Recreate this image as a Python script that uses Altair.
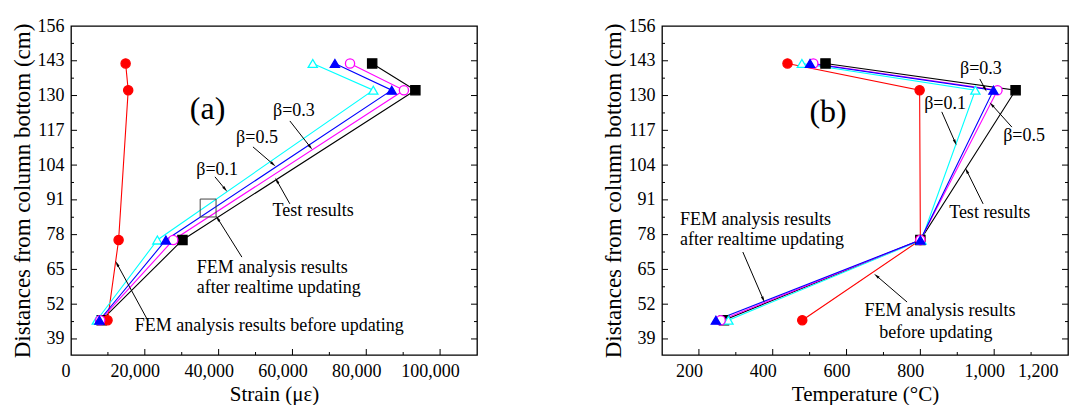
import math
import altair as alt
import pandas as pd

# ---------------- data ----------------
heights = [142, 132, 76, 46]
series = ["Test results", "FEM before updating", "β=0.1", "β=0.3", "β=0.5"]
colors = ["#000000", "#FF0000", "#00FFFF", "#FF00FF", "#0000FF"]
fills = ["#000000", "#FF0000", "#FFFFFF", "#FFFFFF", "#0000FF"]
shapes = ["square", "circle", "triangle-up", "circle", "triangle-up"]

strain_test = [81600, 93300, 30200, 8300]
strain_fem_before = [14800, 15500, 12900, 9900]
strain_b01 = [65500, 81900, 23400, 7000]
strain_b03 = [75600, 90200, 27700, 7900]
strain_b05 = [71500, 86900, 25700, 7700]

temp_test = [543, 1058, 800, 268]
temp_fem_before = [440, 798, 800, 480]
temp_b01 = [479, 949, 803, 280]
temp_b03 = [510, 1009, 800, 259]
temp_b05 = [501, 998, 800, 246]

y_ticks = [39, 52, 65, 78, 91, 104, 117, 130, 143, 156]
y_minor = [45.5, 58.5, 71.5, 84.5, 97.5, 110.5, 123.5, 136.5, 149.5]
strain_ticks = [0, 20000, 40000, 60000, 80000, 100000]
strain_minor = [10000, 30000, 50000, 70000, 90000]
temp_ticks = [200, 400, 600, 800, 1000, 1200]
temp_minor = [300, 500, 700, 900, 1100]

# annotations (data units)
a_center = [
    {"x": 37000, "y": 125.0, "t": "(a)", "fs": 32},
    {"x": 60400, "y": 124.2, "t": "β=0.3", "fs": 18},
    {"x": 50400, "y": 114.1, "t": "β=0.5", "fs": 18},
    {"x": 39600, "y": 102.2, "t": "β=0.1", "fs": 18},
    {"x": 65600, "y": 86.8, "t": "Test results", "fs": 18},
]
a_left = [
    {"x": 34100, "y": 65.5, "t": "FEM analysis results", "fs": 18},
    {"x": 34100, "y": 58.1, "t": "after realtime updating", "fs": 18},
    {"x": 17300, "y": 43.9, "t": "FEM analysis results before updating", "fs": 18},
]
a_arrows = [
    {"x": 59300, "y": 120.5, "x2": 64800, "y2": 110.8},
    {"x": 49300, "y": 110.8, "x2": 54700, "y2": 104.4},
    {"x": 39000, "y": 99.6, "x2": 41700, "y2": 95.1},
    {"x": 59300, "y": 89.5, "x2": 55800, "y2": 98.1},
    {"x": 46300, "y": 69.6, "x2": 39800, "y2": 83.9},
    {"x": 20900, "y": 45.7, "x2": 12500, "y2": 67.0},
]
a_box = [{"x": 35000, "x2": 39300, "y": 84.6, "y2": 91.3}]

b_center = [
    {"x": 550, "y": 123.9, "t": "(b)", "fs": 32},
    {"x": 964, "y": 139.9, "t": "β=0.3", "fs": 18},
    {"x": 867, "y": 126.8, "t": "β=0.1", "fs": 18},
    {"x": 1081, "y": 114.9, "t": "β=0.5", "fs": 18},
    {"x": 988, "y": 86.1, "t": "Test results", "fs": 18},
    {"x": 853, "y": 49.5, "t": "FEM analysis results", "fs": 18},
    {"x": 842, "y": 41.2, "t": "before updating", "fs": 18},
]
b_left = [
    {"x": 149, "y": 83.5, "t": "FEM analysis results", "fs": 18},
    {"x": 149, "y": 76.0, "t": "after realtime updating", "fs": 18},
]
b_arrows = [
    {"x": 961, "y": 136.2, "x2": 975, "y2": 132.6},
    {"x": 858, "y": 123.9, "x2": 894, "y2": 112.6},
    {"x": 1048, "y": 118.2, "x2": 994, "y2": 126.5},
    {"x": 970, "y": 89.5, "x2": 926, "y2": 101.8},
    {"x": 319, "y": 71.5, "x2": 374, "y2": 53.9},
    {"x": 764, "y": 52.8, "x2": 682, "y2": 62.5},
]

W, H = 406, 329
Y_DOMAIN = [33, 156]
FONT = "Liberation Serif"
ARROW_PATH = "M0,-1L0.35,0.7L-0.35,0.7Z"


def series_frame(values_list):
    rows = []
    for name, vals in zip(series, values_list):
        for i, (v, h) in enumerate(zip(vals, heights)):
            rows.append({"s": name, "x": v, "y": h, "idx": i})
    return pd.DataFrame(rows)


def panel(df, xdomain, xticks, xminor, xtitle, centers, lefts, arrows, boxes):
    xs = alt.Scale(domain=xdomain, nice=False, zero=False)
    ys = alt.Scale(domain=Y_DOMAIN, nice=False, zero=False)
    kx = W / (xdomain[1] - xdomain[0])
    ky = H / (Y_DOMAIN[1] - Y_DOMAIN[0])

    xaxis = alt.Axis(values=xticks, format=",d", ticks=False, domain=False,
                     grid=False, labelPadding=7, titlePadding=3, labelOverlap=False,
                     labelOffset=-10, labelFontSize=18, titleFontSize=21,
                     title=xtitle)
    yaxis = alt.Axis(values=y_ticks, ticks=False, domain=False, grid=False,
                     labelPadding=7, titlePadding=3, labelOverlap=False,
                     labelFontSize=18, titleFontSize=23,
                     title="Distances from column bottom (cm)")

    def X(f):
        return alt.X(f, scale=xs, axis=xaxis)

    def Y(f):
        return alt.Y(f, scale=ys, axis=yaxis)

    col = alt.Scale(domain=series, range=colors)
    fil = alt.Scale(domain=series, range=fills)
    shp = alt.Scale(domain=series, range=shapes)

    base = alt.Chart(df)
    lines = base.mark_line(strokeWidth=1.1).encode(
        x=X("x:Q"), y=Y("y:Q"),
        color=alt.Color("s:N", scale=col, legend=None),
        order=alt.Order("idx:Q"),
    )
    pts = base.mark_point(filled=True, size=85, opacity=1, strokeWidth=1.3).encode(
        x=X("x:Q"), y=Y("y:Q"),
        shape=alt.Shape("s:N", scale=shp, legend=None),
        fill=alt.Fill("s:N", scale=fil, legend=None),
        stroke=alt.Stroke("s:N", scale=col, legend=None),
    )

    # inward ticks
    tx = pd.DataFrame({"x": xticks, "len": [6] * len(xticks)})
    tx = pd.concat([tx, pd.DataFrame({"x": xminor, "len": [3] * len(xminor)})])
    tx = tx[(tx.x > xdomain[0]) & (tx.x < xdomain[1])]
    ty = pd.DataFrame({"y": y_ticks, "len": [6] * len(y_ticks)})
    ty = pd.concat([ty, pd.DataFrame({"y": y_minor, "len": [3] * len(y_minor)})])
    ty = ty[(ty.y > Y_DOMAIN[0]) & (ty.y < Y_DOMAIN[1])]
    tx["y0"] = H
    tx["y1"] = H - tx["len"]
    ty["xl0"] = 0
    ty["xl1"] = ty["len"]
    ty["xr0"] = W
    ty["xr1"] = W - ty["len"]
    bt = alt.Chart(tx).mark_rule(color="black", strokeWidth=1).encode(
        x=X("x:Q"), y=alt.Y("y0:Q", scale=None), y2="y1:Q")
    lt = alt.Chart(ty).mark_rule(color="black", strokeWidth=1).encode(
        y=Y("y:Q"), x=alt.X("xl0:Q", scale=None), x2="xl1:Q")
    rt = alt.Chart(ty).mark_rule(color="black", strokeWidth=1).encode(
        y=Y("y:Q"), x=alt.X("xr0:Q", scale=None), x2="xr1:Q")

    cdf = pd.DataFrame(centers)
    ctext = alt.Chart(cdf).mark_text(font=FONT, color="black", align="center",
                                     baseline="middle").encode(
        x=X("x:Q"), y=Y("y:Q"), text="t:N",
        size=alt.Size("fs:Q", scale=None, legend=None))
    ldf = pd.DataFrame(lefts)
    ltext = alt.Chart(ldf).mark_text(font=FONT, color="black", align="left",
                                     baseline="middle").encode(
        x=X("x:Q"), y=Y("y:Q"), text="t:N",
        size=alt.Size("fs:Q", scale=None, legend=None))

    adf = pd.DataFrame(arrows)
    adf["ang"] = [
        math.degrees(math.atan2((r["x2"] - r["x"]) * kx, (r["y2"] - r["y"]) * ky)) % 360
        for _, r in adf.iterrows()
    ]
    arr = alt.Chart(adf).mark_rule(color="black", strokeWidth=1).encode(
        x=X("x:Q"), y=Y("y:Q"), x2="x2:Q", y2="y2:Q")
    heads = alt.Chart(adf).mark_point(shape=ARROW_PATH, filled=True, color="black",
                                      size=55, opacity=1).encode(
        x=X("x2:Q"), y=Y("y2:Q"),
        angle=alt.Angle("ang:Q", scale=None))

    layers = [lines, pts, bt, lt, rt, ctext, ltext, arr, heads]
    if boxes:
        bdf = pd.DataFrame(boxes)
        box = alt.Chart(bdf).mark_rect(fillOpacity=0, stroke="#444444", strokeWidth=1).encode(
            x=X("x:Q"), x2="x2:Q", y=Y("y:Q"), y2="y2:Q")
        layers.append(box)
    return alt.layer(*layers).properties(width=W, height=H)


left = panel(series_frame([strain_test, strain_fem_before, strain_b01, strain_b03, strain_b05]),
             [0, 110000], strain_ticks, strain_minor, "Strain (με)",
             a_center, a_left, a_arrows, a_box)
right = panel(series_frame([temp_test, temp_fem_before, temp_b01, temp_b03, temp_b05]),
              [100, 1200], temp_ticks, temp_minor, "Temperature (°C)",
              b_center, b_left, b_arrows, None)

chart = alt.hconcat(left, right, spacing=122).properties(
    padding={"left": 2, "top": 8, "right": 0, "bottom": 0},
    background="white",
).configure_view(stroke="black", strokeWidth=1.3).configure_axis(
    labelFont=FONT, labelColor="black", labelOverlap=False,
    titleFont=FONT, titleFontWeight="normal", titleColor="black",
)

chart.save("out.html", embed_options={"renderer": "svg", "actions": False})
